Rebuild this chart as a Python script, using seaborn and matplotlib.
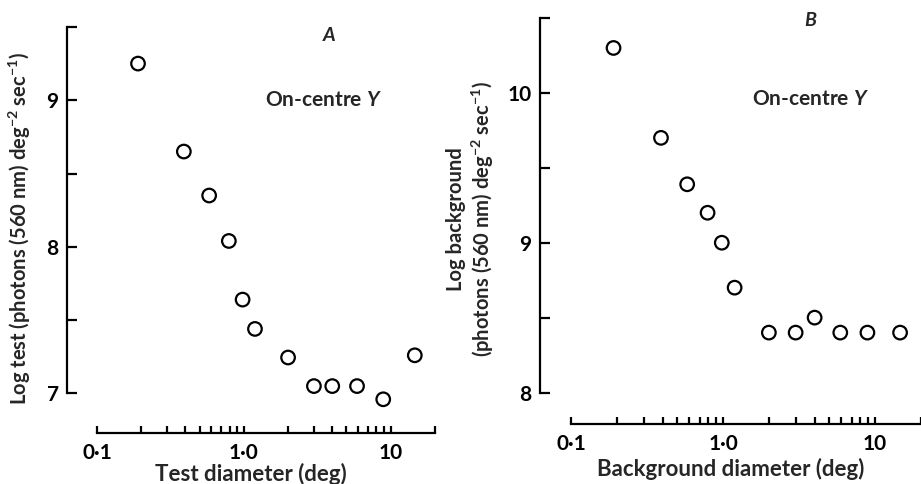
import numpy as np
import pandas as pd
import seaborn as sns
import matplotlib.pyplot as plt
from matplotlib.ticker import FixedLocator, NullFormatter

# diameters (deg), same for both panels
diam = [0.19, 0.39, 0.58, 0.79, 0.98, 1.19, 2.0, 3.0, 4.0, 5.9, 8.9, 14.6]
log_test = [9.25, 8.65, 8.35, 8.04, 7.64, 7.44, 7.245, 7.05, 7.05, 7.05, 6.96, 7.26]
log_bkg = [10.30, 9.70, 9.39, 9.20, 9.00, 8.70, 8.40, 8.40, 8.50, 8.40, 8.40, 8.40]

x_major = [0.1, 1.0, 10]
x_labels = ["0·1", "1·0", "10"]

sns.set_theme(style="ticks")
plt.rcParams["font.family"] = ["Lato", "DejaVu Sans"]
plt.rcParams["mathtext.fontset"] = "custom"
plt.rcParams["mathtext.rm"] = "Lato:bold"
plt.rcParams["mathtext.it"] = "Lato:bold:italic"
plt.rcParams["mathtext.bf"] = "Lato:bold"

fig = plt.figure(figsize=(9.21, 4.84), dpi=100)

W, H = 921, 484


def px_axes(x0, y_top, x1, y_bot):
    return fig.add_axes([x0 / W, (H - y_bot) / H, (x1 - x0) / W, (y_bot - y_top) / H])


def style_axis(ax, ylo, yhi, ybot, yticks):
    ax.set_xscale("log")
    ax.set_xlim(10 ** -1.205, 10 ** 1.302)
    ax.set_ylim(ybot, yhi + 0.02)
    for s in ["top", "right"]:
        ax.spines[s].set_visible(False)
    ax.spines["left"].set_bounds(ylo, yhi)
    ax.spines["bottom"].set_bounds(0.1, 20)
    for s in ["left", "bottom"]:
        ax.spines[s].set_linewidth(1.6)
        ax.spines[s].set_color("black")
    ax.xaxis.set_major_locator(FixedLocator(x_major))
    ax.set_xticklabels(x_labels)
    minors = [m * d for d in (0.1, 1.0) for m in range(2, 10)] + [20]
    ax.xaxis.set_minor_locator(FixedLocator(minors))
    ax.xaxis.set_minor_formatter(NullFormatter())
    ax.yaxis.set_major_locator(FixedLocator(yticks))
    ax.yaxis.set_minor_locator(FixedLocator([v + 0.5 for v in yticks]))
    ax.tick_params(which="both", direction="in", width=1.6, color="black",
                   labelsize=15, labelcolor="black")
    ax.tick_params(axis="x", which="both", length=5, pad=7)
    ax.tick_params(axis="y", which="both", length=7, pad=6)
    for lab in ax.get_xticklabels() + ax.get_yticklabels():
        lab.set_fontweight("bold")


# Panel A
axA = px_axes(67, 24, 435, 433)
dfA = pd.DataFrame({"diam": diam, "val": log_test})
sns.scatterplot(data=dfA, x="diam", y="val", ax=axA, s=95, marker="o",
                facecolor="none", edgecolor="black", linewidth=1.6, clip_on=False)
style_axis(axA, 7, 9.5, 6.73, [7, 8, 9])
axA.set_xlabel("Test diameter (deg)", fontsize=16, fontweight="bold", labelpad=0)
axA.set_ylabel(r"Log test (photons (560 nm) deg$^{-2}$ sec$^{-1}$)", fontsize=14.5,
               fontweight="bold", labelpad=10)
axA.text(0.712, 0.973, r"$\mathit{A}$", transform=axA.transAxes, fontsize=14,
         ha="center", va="center")
axA.text(0.696, 0.814, r"On-centre $\mathit{Y}$", transform=axA.transAxes, fontsize=15,
         fontweight="bold", ha="center", va="center")

# Panel B
axB = px_axes(540, 15, 921, 424)
dfB = pd.DataFrame({"diam": diam, "val": log_bkg})
sns.scatterplot(data=dfB, x="diam", y="val", ax=axB, s=95, marker="o",
                facecolor="none", edgecolor="black", linewidth=1.6, clip_on=False)
style_axis(axB, 8, 10.5, 7.79, [8, 9, 10])
axB.set_xlabel("Background diameter (deg)", fontsize=16, fontweight="bold", labelpad=3)
axB.set_ylabel("Log background\n" + r"(photons (560 nm) deg$^{-2}$ sec$^{-1}$)",
               fontsize=14.5, fontweight="bold", labelpad=8, linespacing=1.2)
axB.text(0.711, 0.988, r"$\mathit{B}$", transform=axB.transAxes, fontsize=14,
         ha="center", va="center")
axB.text(0.709, 0.795, r"On-centre $\mathit{Y}$", transform=axB.transAxes, fontsize=15,
         fontweight="bold", ha="center", va="center")

fig.savefig("out.png", dpi=100)
